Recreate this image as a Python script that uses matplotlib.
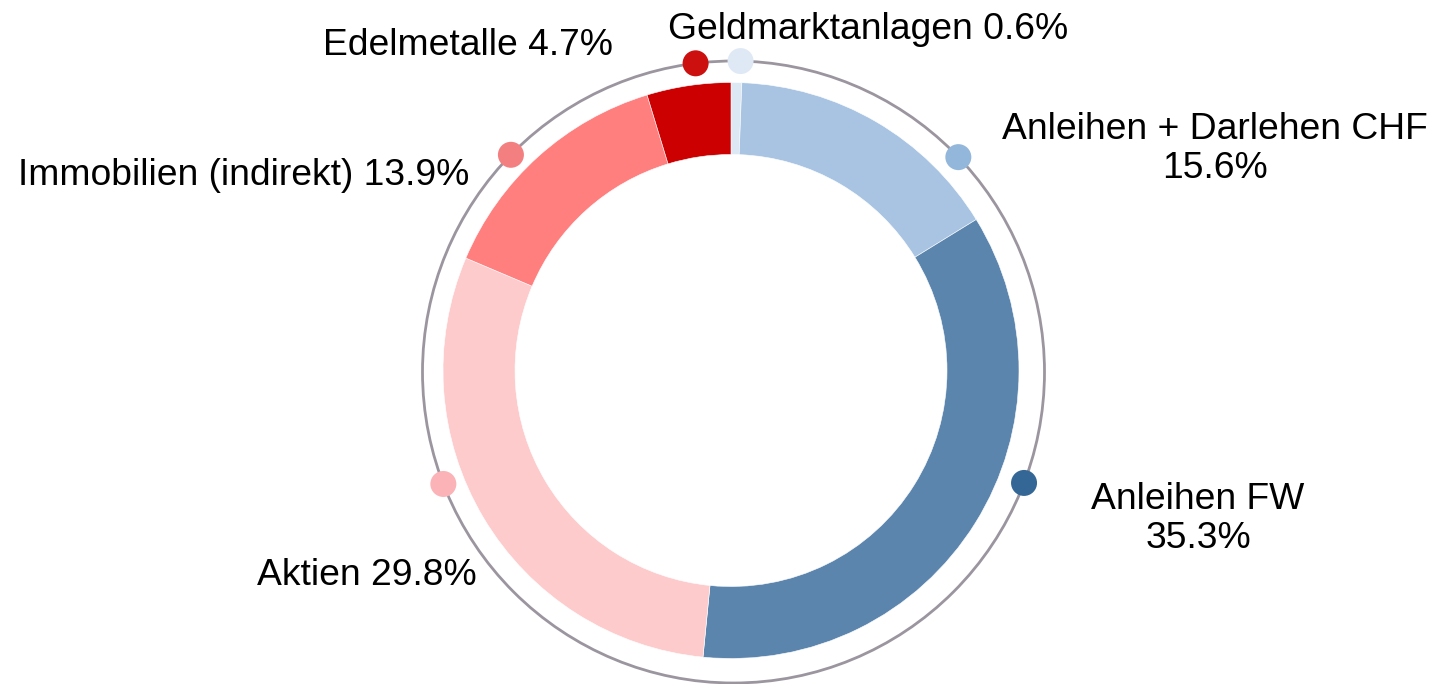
import numpy as np
import matplotlib
matplotlib.use("Agg")
import matplotlib.pyplot as plt
from matplotlib.patches import Circle

plt.rcParams['font.family'] = ['Liberation Sans', 'DejaVu Sans']

# data, in drawing order (clockwise from 12 o'clock)
categories = ["Geldmarktanlagen", "Anleihen + Darlehen CHF", "Anleihen FW",
              "Aktien", "Immobilien (indirekt)", "Edelmetalle"]
shares = [0.6, 15.6, 35.3, 29.8, 13.9, 4.7]

slice_colors = ["#dce8f4", "#a8c4e2", "#5b85ad", "#fdcbcb", "#ff7f7f", "#cc0000"]
dot_colors = ["#dfe9f5", "#93b7db", "#346796", "#fbb3b7", "#f47f80", "#cc1010"]

# label layout (pixel coords, y from top): x, baseline y of last line, horizontal alignment
label_pos = [(668, 39, "left"), (1215, 178, "center"), (1198, 548, "center"),
             (257, 585, "left"), (18, 185, "left"), (323, 55, "left")]
label_lines = [False, True, True, False, False, False]
# where the marker dots sit on the outer circle, degrees clockwise from top
dot_angles = [1.3, 46.3, 110.9, 248.9, 314.3, 353.0]

W, H = 1435, 684

fig = plt.figure(figsize=(W / 100, H / 100), dpi=100)
ax = fig.add_axes([0, 0, 1, 1])

# the donut itself
ax.pie(shares, colors=slice_colors, radius=288, center=(731, H - 370.5),
       startangle=90, counterclock=False,
       wedgeprops=dict(width=72, edgecolor="white", linewidth=0.4))

# thin ring around it
cx, cy, R = 733.5, H - 372, 311
ax.add_patch(Circle((cx, cy), R, fill=False, edgecolor="#9b959f", linewidth=2, zorder=3))

for i, name in enumerate(categories):
    a = np.deg2rad(dot_angles[i])
    ax.add_patch(Circle((cx + R * np.sin(a), cy + R * np.cos(a)), 13,
                        facecolor=dot_colors[i], edgecolor="none", zorder=4))
    sep = "\n" if label_lines[i] else " "
    txt = f"{name}{sep}{shares[i]:.1f}%"
    x, y, ha = label_pos[i]
    ax.text(x, H - y, txt, fontsize=26.8, ha=ha, va="baseline",
            multialignment="center", linespacing=1.15, color="black")

ax.set_xlim(0, W)
ax.set_ylim(0, H)
ax.set_aspect("equal")
ax.axis("off")

fig.savefig("out.png", dpi=100, facecolor="white")
